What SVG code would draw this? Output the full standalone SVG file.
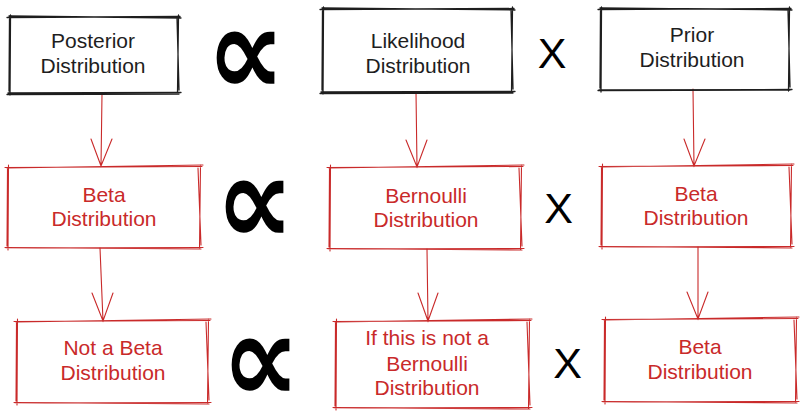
<svg xmlns="http://www.w3.org/2000/svg" width="804" height="418" viewBox="0 0 804 418">
<style>
.bk{fill:none;stroke:#1e1e1e;stroke-width:1.3;stroke-linecap:round}
.rd{fill:none;stroke:#c92a2a;stroke-width:1.1;stroke-linecap:round}
.tb{font-family:"Liberation Sans",Arial,sans-serif;font-size:21px;fill:#1e1e1e;text-anchor:middle}
.tr{font-family:"Liberation Sans",Arial,sans-serif;font-size:21px;fill:#c92a2a;text-anchor:middle}
.pr{font-family:"DejaVu Sans",sans-serif;font-weight:bold;font-size:110px;fill:#000;text-anchor:middle}
.x{font-family:"Liberation Sans",Arial,sans-serif;font-size:43px;fill:#000;text-anchor:middle}
</style>
<rect width="804" height="418" fill="#fff"/>
<g id="connectors">
<path class="rd" d="M102 94 L101 166 M91 139 L101 166 L112 139"/>
<path class="rd" d="M100 248 L103 321 M92 293 L103 321 L113 293"/>
<path class="rd" d="M416 92 L417 167 M406 140 L417 167 L427 140"/>
<path class="rd" d="M427 249 L428 321 M418 293 L428 321 L438 293"/>
<path class="rd" d="M693 89 L694 166 M684 139 L694 166 L705 139"/>
<path class="rd" d="M698 247 L698 319 M687 292 L698 319 L708 292"/>
</g>
<g id="posterior">
<path class="bk" d="M7 17.5 L180 16.5 M178.5 15 L177.5 94 M181 92.5 L8 93 M10 95 L10.5 15 M9 16 L181 18 M177 18 L179 90 M179 94 L7 94.5 M9 91 L9.5 19"/>
<text class="tb" x="93" y="48">Posterior</text>
<text class="tb" x="93" y="73">Distribution</text>
</g>
<g id="likelihood">
<path class="bk" d="M320 9.5 L514 8.5 M512.5 7 L511.5 93 M515 91.5 L321 92 M323 94 L323.5 7 M322 8 L515 10 M511 10 L513 89 M513 93 L320 93.5 M322 90 L322.5 11"/>
<text class="tb" x="418" y="48">Likelihood</text>
<text class="tb" x="418" y="73">Distribution</text>
</g>
<g id="prior">
<path class="bk" d="M598 9.5 L791 8.5 M789.5 7 L788.5 91 M792 89.5 L599 90 M601 92 L601.5 7 M600 8 L792 10 M788 10 L790 87 M790 90 L598 90.5 M600 88 L600.5 11"/>
<text class="tb" x="692" y="42">Prior</text>
<text class="tb" x="692" y="67">Distribution</text>
</g>
<g id="beta1">
<path class="rd" d="M5 167.5 L202 166.5 M200.5 165 L199.5 249 M203 247.5 L6 248 M8 250 L8.5 165 M7 168 L203 165 M198 168 L201 245 M201 249 L5 247.5 M7 246 L7.5 169"/>
<text class="tr" x="104" y="202">Beta</text>
<text class="tr" x="104" y="226">Distribution</text>
</g>
<g id="bernoulli">
<path class="rd" d="M327 167.5 L523 166.5 M521.5 165 L520.5 250 M524 248.5 L328 249 M330 251 L330.5 165 M329 168 L524 165 M519 168 L522 246 M522 250 L327 248.5 M329 247 L329.5 169"/>
<text class="tr" x="426" y="203">Bernoulli</text>
<text class="tr" x="426" y="227">Distribution</text>
</g>
<g id="beta2">
<path class="rd" d="M599 166.5 L793 165.5 M791.5 164 L790.5 248 M794 246.5 L600 247 M602 249 L602.5 164 M601 167 L794 164 M789 167 L792 244 M792 248 L599 246.5 M601 245 L601.5 168"/>
<text class="tr" x="696" y="201">Beta</text>
<text class="tr" x="696" y="225">Distribution</text>
</g>
<g id="notbeta">
<path class="rd" d="M14 321.5 L210 320.5 M208.5 319 L207.5 404 M211 402.5 L15 403 M17 405 L17.5 319 M16 322 L211 319 M206 322 L209 400 M209 404 L14 402.5 M16 401 L16.5 323"/>
<text class="tr" x="113" y="355">Not a Beta</text>
<text class="tr" x="113" y="380">Distribution</text>
</g>
<g id="notbernoulli">
<path class="rd" d="M333 321.5 L531 320.5 M529.5 319 L528.5 409 M532 407.5 L334 408 M336 410 L336.5 319 M335 322 L532 319 M527 322 L530 405 M530 409 L333 407.5 M335 406 L335.5 323"/>
<text class="tr" x="427" y="345">If this is not a</text>
<text class="tr" x="427" y="371">Bernoulli</text>
<text class="tr" x="427" y="395">Distribution</text>
</g>
<g id="beta3">
<path class="rd" d="M602 319.5 L798 318.5 M796.5 317 L795.5 403 M799 401.5 L603 402 M605 404 L605.5 317 M604 320 L799 317 M794 320 L797 399 M797 403 L602 401.5 M604 400 L604.5 321"/>
<text class="tr" x="700" y="354">Beta</text>
<text class="tr" x="700" y="379">Distribution</text>
</g>
<g id="operators">
<text class="pr" transform="translate(246 57) scale(1 1.14)" x="0" y="33">∝</text>
<text class="pr" transform="translate(255 206) scale(1 1.14)" x="0" y="33">∝</text>
<text class="pr" transform="translate(261 364) scale(1 1.14)" x="0" y="33">∝</text>
<text class="x" x="552" y="68">X</text>
<text class="x" x="558.5" y="223">X</text>
<text class="x" x="567.5" y="378">X</text>
</g>
</svg>
